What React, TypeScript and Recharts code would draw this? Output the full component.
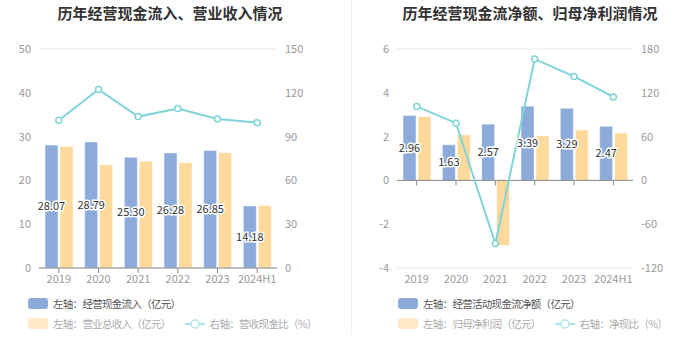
import {
  ComposedChart,
  Bar,
  Line,
  XAxis,
  YAxis,
  CartesianGrid,
  LabelList,
  ReferenceLine,
} from "recharts";

const years = ["2019", "2020", "2021", "2022", "2023", "2024H1"];

// left panel
const cashInflow = [28.07, 28.79, 25.3, 26.28, 26.85, 14.18];
const revenue = [27.75, 23.55, 24.4, 24.05, 26.3, 14.25];
const cashRatio = [101.2, 122.3, 103.7, 109.3, 102.1, 99.5];
const leftTicksL = [0, 10, 20, 30, 40, 50];
const leftTicksR = [0, 30, 60, 90, 120, 150];

// right panel
const netCash = [2.96, 1.63, 2.57, 3.39, 3.29, 2.47];
const netProfit = [2.92, 2.08, -2.97, 2.04, 2.31, 2.16];
const netRatio = [101.4, 78.4, -86.5, 166.2, 142.4, 114.4];
const rightTicksL = [-4, -2, 0, 2, 4, 6];
const rightTicksR = [-120, -60, 0, 60, 120, 180];

const titles = ["历年经营现金流入、营业收入情况", "历年经营现金流净额、归母净利润情况"];
const leftLegend = ["左轴：经营现金流入（亿元）", "左轴：营业总收入（亿元）", "右轴：营收现金比（%）"];
const rightLegend = ["左轴：经营活动现金流净额（亿元）", "左轴：归母净利润（亿元）", "右轴：净现比（%）"];

const BLUE = "#8cabdb";
const ORANGE = "#fdd99c";
const TEAL = "#7fd4d8";
const FONT = '"Noto Sans CJK SC", "Noto Sans", sans-serif';

const leftData = years.map((y, i) => ({
  year: y,
  a: cashInflow[i],
  b: revenue[i],
  r: cashRatio[i],
}));

const rightData = years.map((y, i) => ({
  year: y,
  a: netCash[i],
  b: netProfit[i],
  r: netRatio[i],
}));

const axisTick = { fill: "#999", fontSize: 11, fontFamily: FONT };

const labelStyle = {
  fill: "#333",
  stroke: "#fff",
  strokeWidth: 3,
  paintOrder: "stroke" as const,
  fontSize: 11,
  fontFamily: FONT,
};

function Swatch({ color }: { color: string }) {
  return (
    <span
      style={{
        display: "inline-block",
        width: 20,
        height: 11,
        borderRadius: 3,
        background: color,
        marginRight: 5,
      }}
    />
  );
}

function LineIcon() {
  return (
    <svg width={20} height={12} style={{ marginRight: 5 }}>
      <line x1={0} y1={6} x2={20} y2={6} stroke="#a9e5e7" strokeWidth={2} />
      <circle cx={10} cy={6} r={4} fill="#fff" stroke="#a9e5e7" strokeWidth={1.5} />
    </svg>
  );
}

function PanelLegend({ left, names }: { left: number; names: string[] }) {
  const row = {
    position: "absolute" as const,
    left,
    display: "flex",
    alignItems: "center",
    fontSize: 10.5,
    letterSpacing: -0.7,
    fontFamily: FONT,
    whiteSpace: "nowrap" as const,
  };
  return (
    <>
      <div style={{ ...row, top: 296, color: "#555" }}>
        <Swatch color={BLUE} />
        {names[0]}
      </div>
      <div style={{ ...row, top: 316, color: "#aaa" }}>
        <Swatch color="#ffe8c6" />
        {names[1]}
        <span style={{ width: 14 }} />
        <LineIcon />
        {names[2]}
      </div>
    </>
  );
}

function Title({ cx, text }: { cx: number; text: string }) {
  return (
    <div
      style={{
        position: "absolute",
        left: cx,
        top: 2,
        transform: "translateX(-50%)",
        fontSize: 15,
        fontWeight: 700,
        color: "#333",
        fontFamily: FONT,
        whiteSpace: "nowrap",
      }}
    >
      {text}
    </div>
  );
}

export default function App() {
  return (
    <div
      style={{
        position: "absolute",
        left: 0,
        top: 0,
        width: 700,
        height: 360,
        background: "#fff",
        overflow: "hidden",
      }}
    >
      {/* left panel */}
      <Title cx={170} text={titles[0]} />
      <div style={{ position: "absolute", left: 0, top: 0 }}>
        <ComposedChart
          width={350}
          height={298}
          data={leftData}
          margin={{ top: 49, right: 0, bottom: 0, left: 0 }}
          barSize={13}
          barGap={2}
        >
          <CartesianGrid vertical={false} stroke="#e6e9f1" />
          <XAxis
            dataKey="year"
            height={30}
            tick={axisTick}
            tickSize={5}
            tickMargin={2}
            stroke="#888"
          />
          <YAxis
            yAxisId="l"
            width={39}
            domain={[0, 50]}
            ticks={leftTicksL}
            axisLine={false}
            tickLine={false}
            tick={axisTick}
          />
          <YAxis
            yAxisId="r"
            orientation="right"
            width={73}
            domain={[0, 150]}
            ticks={leftTicksR}
            axisLine={false}
            tickLine={false}
            tick={axisTick}
          />
          <Bar yAxisId="l" dataKey="a" fill={BLUE} stroke="#fff" strokeWidth={0.5} isAnimationActive={false}>
            <LabelList dataKey="a" position="center" formatter={(v: any) => Number(v).toFixed(2)} style={labelStyle} />
          </Bar>
          <Bar yAxisId="l" dataKey="b" fill={ORANGE} stroke="#fff" strokeWidth={0.5} isAnimationActive={false} />
          <Line
            yAxisId="r"
            dataKey="r"
            stroke={TEAL}
            strokeWidth={2}
            dot={{ r: 3, fill: "#fff", stroke: TEAL, strokeWidth: 1.5 }}
            isAnimationActive={false}
          />
        </ComposedChart>
      </div>
      <PanelLegend left={28} names={leftLegend} />

      {/* divider */}
      <div
        style={{
          position: "absolute",
          left: 351,
          top: 0,
          width: 1,
          height: 335,
          background: "#f0f0f0",
        }}
      />

      {/* right panel */}
      <Title cx={530} text={titles[1]} />
      <div style={{ position: "absolute", left: 350, top: 0 }}>
        <ComposedChart
          width={350}
          height={298}
          data={rightData}
          margin={{ top: 49, right: 0, bottom: 0, left: 0 }}
          barSize={13}
          barGap={2}
        >
          <CartesianGrid vertical={false} stroke="#e6e9f1" />
          <XAxis
            dataKey="year"
            height={30}
            tick={axisTick}
            tickSize={5}
            tickMargin={2}
            axisLine={false}
            tickLine={false}
          />
          <YAxis
            yAxisId="l"
            width={47}
            domain={[-4, 6]}
            ticks={rightTicksL}
            axisLine={false}
            tickLine={false}
            tick={axisTick}
          />
          <YAxis
            yAxisId="r"
            orientation="right"
            width={67}
            domain={[-120, 180]}
            ticks={rightTicksR}
            axisLine={false}
            tickLine={false}
            tick={axisTick}
          />
          <Bar yAxisId="l" dataKey="a" fill={BLUE} stroke="#fff" strokeWidth={0.5} isAnimationActive={false}>
            <LabelList dataKey="a" position="center" formatter={(v: any) => Number(v).toFixed(2)} style={labelStyle} />
          </Bar>
          <Bar yAxisId="l" dataKey="b" fill={ORANGE} stroke="#fff" strokeWidth={0.5} isAnimationActive={false} />
          <ReferenceLine yAxisId="l" y={0} stroke="#888" />
          {years.map((y) => (
            <ReferenceLine
              key={y}
              yAxisId="l"
              stroke="#888"
              segment={[
                { x: y, y: 0 },
                { x: y, y: -0.23 },
              ]}
            />
          ))}
          <Line
            yAxisId="r"
            dataKey="r"
            stroke={TEAL}
            strokeWidth={2}
            dot={{ r: 3, fill: "#fff", stroke: TEAL, strokeWidth: 1.5 }}
            isAnimationActive={false}
          />
        </ComposedChart>
      </div>
      <PanelLegend left={398} names={rightLegend} />
    </div>
  );
}
